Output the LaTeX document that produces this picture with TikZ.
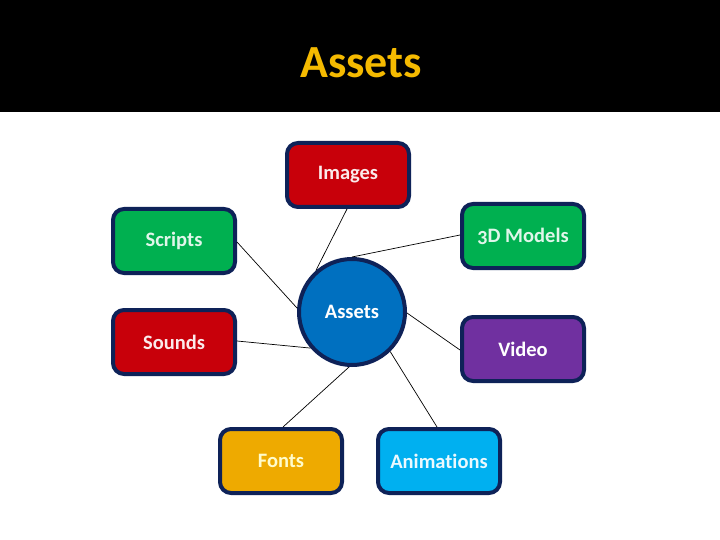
\documentclass[tikz,border=0pt]{standalone}
\usepackage{fontspec}
\setmainfont{Carlito}[Numbers=OldStyle, Ligatures=NoCommon]
\definecolor{bordc}{HTML}{0E2258}
\definecolor{redc}{HTML}{C8000A}
\definecolor{greenc}{HTML}{00B050}
\definecolor{purplec}{HTML}{7030A0}
\definecolor{goldc}{HTML}{EEAA00}
\definecolor{cyanc}{HTML}{00B0F0}
\definecolor{bluec}{HTML}{0070C0}
\definecolor{titlec}{HTML}{F5BA00}
\begin{document}
\begin{tikzpicture}[x=1pt,y=-1pt,
  itembox/.style={draw=bordc, line width=4pt, rounded corners=11pt, minimum width=122pt, minimum height=64pt, inner sep=0pt, font=\bfseries\fontsize{20.5}{24}\selectfont},
  hub/.style={circle, draw=bordc, line width=4pt, fill=bluec, minimum size=106pt, inner sep=0pt, font=\bfseries\fontsize{20.5}{24}\selectfont, text=white},
  link/.style={draw=black, line width=0.7pt}]
\useasboundingbox (0,0) rectangle (720,540);
\fill[white] (0,0) rectangle (720,540);
\fill[black] (0,0) rectangle (720,112);
\node[text=titlec, font=\bfseries\fontsize{46}{54}\selectfont] (title) at (361,63) {Assets};

\node[hub] (hub) at (352,312) {Assets};

\node[itembox, fill=redc, text=white!92!redc] (images) at (348,175) {Images};
\node[itembox, fill=greenc, text=white!88!greenc] (scripts) at (174,241) {Scripts};
\node[itembox, fill=greenc, text=white!88!greenc] (models) at (523,236) {3D Models};
\node[itembox, fill=redc, text=white!92!redc] (sounds) at (174,342) {Sounds};
\node[itembox, fill=purplec, text=white] (video) at (523,349) {Video};
\node[itembox, fill=goldc, text=white!80!yellow] (fonts) at (281,461) {Fonts};
\node[itembox, fill=cyanc, text=white!92!cyanc] (anim) at (439,461) {Animations};

\draw[link] ([xshift=-1pt]images.south) -- (hub.131);
\draw[link] ([yshift=1pt]models.west) -- (hub.90);
\draw[link] ([yshift=-1pt]scripts.east) -- (hub.176);
\draw[link] ([yshift=1pt]sounds.east) -- (hub.221);
\draw[link] (hub.359) -- ([yshift=-1pt]video.west);
\draw[link] (hub.267) -- ([xshift=2pt]fonts.north);
\draw[link] (hub.314) -- ([xshift=-2pt]anim.north);
\end{tikzpicture}
\end{document}
